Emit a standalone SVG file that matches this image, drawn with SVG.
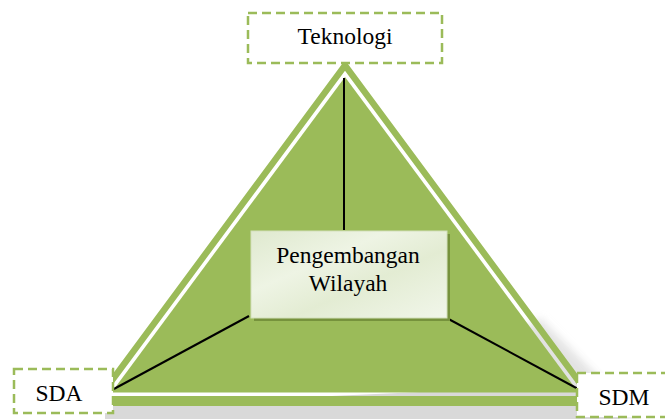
<svg xmlns="http://www.w3.org/2000/svg" width="665" height="419" viewBox="0 0 665 419">
  <defs>
    <style>
      .label { font-family: "Liberation Serif", "Times New Roman", serif; font-size: 23.5px; fill: #000; text-anchor: middle; }
      .dashbox { fill: #ffffff; stroke: #9bbb59; stroke-width: 2.5; stroke-dasharray: 9 5; }
      .link { stroke: #000; stroke-width: 2; fill: none; }
      .green { fill: #9bbb59; }
    </style>
    <filter id="soft" x="-20%" y="-20%" width="140%" height="140%">
      <feGaussianBlur stdDeviation="4"/>
    </filter>
    <linearGradient id="centreFill" x1="0" y1="0" x2="1" y2="1">
      <stop offset="0" stop-color="#dfe9cf"/>
      <stop offset="0.35" stop-color="#eef4e4"/>
      <stop offset="0.6" stop-color="#e3ecd3"/>
      <stop offset="1" stop-color="#f1f6ea"/>
    </linearGradient>
  </defs>

  <rect width="665" height="419" fill="#ffffff"/>

  <!-- soft ground shadow behind the pyramid -->
  <g id="shadow">
    <polygon points="420,394 540,318 640,419 420,419" fill="#dcdcdc" filter="url(#soft)" opacity="0.8"/>
    <polygon points="105,406 420,392 600,392 620,419 105,419" fill="#d9d9d9"/>
  </g>

  <!-- pyramid: outer band with a thin gap, then the solid core -->
  <g id="pyramid">
    <path class="green" fill-rule="evenodd"
          d="M345,60 L89,406 L601,406 Z M345,70.8 L585.6,396 L104.4,396 Z"/>
    <polygon class="green" points="345,76.9 578.5,392.5 111.5,392.5"/>
  </g>

  <!-- connectors from the centre to the three corners -->
  <g id="connectors">
    <line class="link" x1="344" y1="78" x2="344" y2="230"/>
    <line class="link" x1="249" y1="316" x2="112" y2="390"/>
    <line class="link" x1="443" y1="316" x2="580" y2="390"/>
  </g>

  <g id="node-centre">
    <rect x="254" y="234" width="196" height="87" fill="#76923c"/>
    <rect x="251" y="231" width="196" height="87" fill="url(#centreFill)" stroke="#d3e0bb" stroke-width="1"/>
    <text class="label" x="348" y="263">Pengembangan</text>
    <text class="label" x="348" y="291">Wilayah</text>
  </g>

  <g id="node-teknologi">
    <rect class="dashbox" x="248" y="13" width="194" height="50"/>
    <text class="label" x="345" y="44">Teknologi</text>
  </g>

  <g id="node-sda">
    <rect class="dashbox" x="14" y="369" width="99" height="44"/>
    <text class="label" x="59" y="401">SDA</text>
  </g>

  <g id="node-sdm">
    <rect class="dashbox" x="577" y="373" width="94" height="44"/>
    <text class="label" x="624" y="405">SDM</text>
  </g>
</svg>
